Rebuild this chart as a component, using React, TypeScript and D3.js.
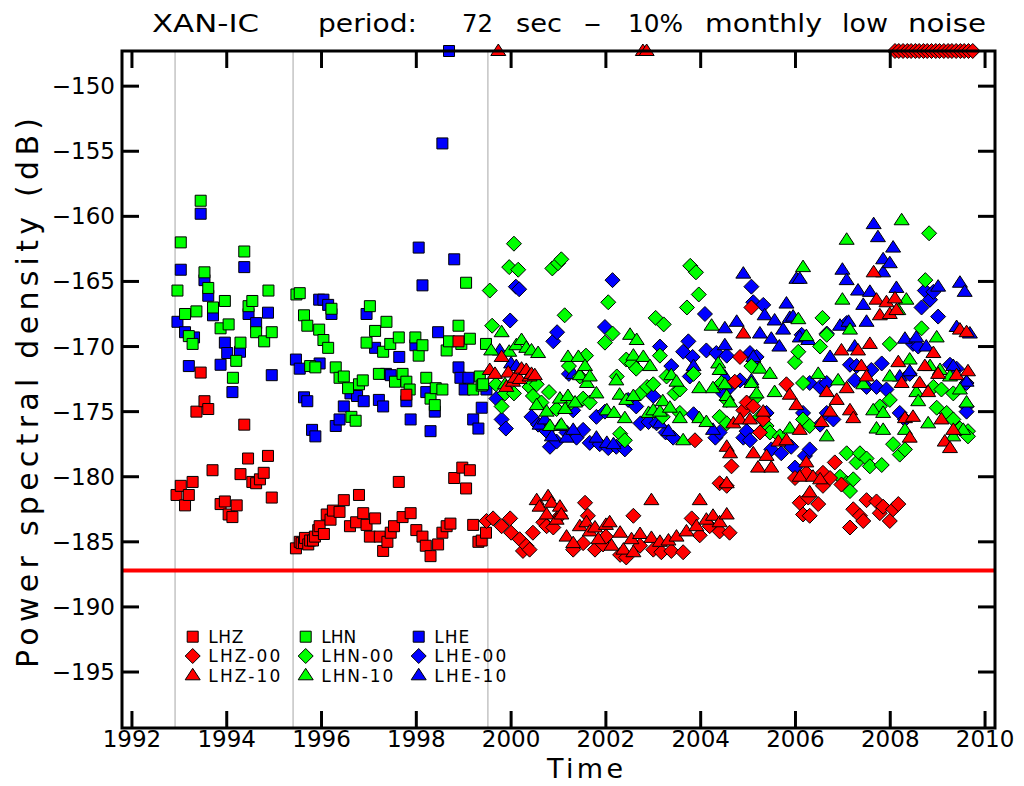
import React, { useRef, useEffect } from "react";
import * as d3 from "d3";

type Pt = [number, number];

// values are [decimal year, power spectral density in dB]
// points above the top of the plot (off scale) are kept as -140 and get clamped
const lhz: Pt[] = [
  [1992.94, -181.4], [1993.03, -180.7], [1993.12, -182.2], [1993.2, -181.4], [1993.28, -180.4],
  [1993.36, -175.0], [1993.45, -172.0], [1993.53, -174.2], [1993.61, -174.8], [1993.7, -179.5],
  [1993.87, -182.1], [1993.96, -181.9], [1994.04, -182.9], [1994.12, -183.1], [1994.21, -182.2],
  [1994.29, -179.8], [1994.37, -176.0], [1994.45, -178.6], [1994.54, -180.4], [1994.62, -180.5],
  [1994.7, -180.2], [1994.78, -179.7], [1994.87, -178.4], [1994.95, -181.6],
  [1995.46, -185.5], [1995.54, -185.0], [1995.58, -185.1], [1995.63, -185.1], [1995.65, -184.7],
  [1995.72, -185.2], [1995.76, -184.9], [1995.82, -184.9], [1995.86, -184.6], [1995.93, -184.1],
  [1995.96, -183.8], [1996.05, -184.4], [1996.11, -182.9], [1996.19, -183.3], [1996.24, -182.6],
  [1996.38, -182.7], [1996.47, -181.8], [1996.6, -183.8], [1996.73, -183.5], [1996.79, -181.4],
  [1996.88, -182.8], [1996.95, -183.7], [1997.02, -184.6], [1997.13, -183.2], [1997.23, -184.6],
  [1997.3, -185.7], [1997.39, -185.0], [1997.46, -184.3], [1997.53, -183.8], [1997.63, -180.4],
  [1997.71, -183.1], [1997.79, -173.7], [1997.88, -182.8], [1998.0, -184.1], [1998.13, -184.6],
  [1998.2, -185.3], [1998.3, -186.1], [1998.46, -185.2], [1998.55, -184.3], [1998.64, -183.8],
  [1998.72, -183.6], [1998.8, -180.1], [1998.89, -169.6], [1998.97, -179.3], [1999.05, -180.9],
  [1999.13, -179.5], [1999.2, -183.7], [1999.31, -185.0], [1999.38, -184.9], [1999.47, -184.3],
];

const lhz00: Pt[] = [
  [1999.48, -183.4], [1999.62, -183.2], [1999.8, -183.8], [1999.98, -183.2], [2000.0, -184.3],
  [2000.18, -184.8], [2000.25, -185.7], [2000.32, -185.3], [2000.39, -185.6], [2000.46, -184.3],
  [2000.68, -183.5], [2000.75, -183.8], [2000.89, -183.9], [2001.03, -183.0], [2001.31, -185.6],
  [2001.52, -185.1], [2001.56, -182.0], [2001.62, -183.0], [2001.77, -185.6], [2001.94, -185.2],
  [2002.0, -184.6], [2002.3, -186.0], [2002.43, -186.2], [2002.58, -183.0], [2002.72, -185.3],
  [2003.0, -185.6], [2003.17, -185.8], [2003.38, -185.7], [2003.63, -185.8], [2003.81, -183.2],
  [2003.88, -177.2], [2003.98, -184.5], [2004.19, -183.8], [2004.4, -184.2], [2004.4, -180.5],
  [2004.55, -180.7], [2004.61, -184.3], [2004.65, -179.2], [2004.72, -172.7], [2004.83, -170.8],
  [2004.9, -174.9], [2004.97, -174.3], [2005.07, -167.0], [2005.11, -174.6], [2005.25, -176.6],
  [2005.32, -175.6], [2005.81, -172.9], [2005.99, -180.1], [2006.09, -182.0], [2006.16, -182.9],
  [2006.23, -179.7], [2006.27, -181.6], [2006.3, -183.0], [2006.48, -182.1], [2006.58, -179.7],
  [2006.58, -180.7], [2006.73, -180.1], [2006.83, -178.9], [2006.97, -180.6], [2007.15, -183.9],
  [2007.22, -182.5], [2007.36, -183.0], [2007.43, -183.4], [2007.5, -181.8], [2007.71, -181.9],
  [2007.78, -182.8], [2007.85, -182.3], [2007.99, -183.4], [2008.06, -182.5], [2008.17, -182.1],
  [2008.1, -140], [2008.18, -140], [2008.27, -140], [2008.36, -140], [2008.44, -140],
  [2008.53, -140], [2008.61, -140], [2008.7, -140], [2008.78, -140], [2008.87, -140],
  [2008.96, -140], [2009.04, -140], [2009.13, -140], [2009.22, -140], [2009.3, -140],
  [2009.39, -140], [2009.48, -140], [2009.56, -140], [2009.65, -140], [2009.74, -140],
];

const lhz10: Pt[] = [
  [1999.55, -171.8], [1999.66, -172.1], [1999.73, -140], [1999.8, -170.8], [1999.9, -173.1],
  [1999.94, -172.0], [2000.04, -172.7], [2000.08, -172.4], [2000.18, -172.5], [2000.22, -171.7],
  [2000.32, -171.8], [2000.39, -172.3], [2000.43, -172.1], [2000.5, -172.2], [2000.54, -181.8],
  [2000.6, -182.3], [2000.75, -182.9], [2000.78, -181.5], [2000.85, -182.0], [2000.96, -183.3],
  [2001.03, -182.3], [2001.06, -182.9], [2001.17, -184.6], [2001.31, -185.1], [2001.45, -183.8],
  [2001.59, -183.5], [2001.66, -184.2], [2001.77, -183.9], [2001.84, -184.8], [2002.0, -183.7],
  [2002.08, -183.5], [2002.12, -185.3], [2002.3, -184.3], [2002.37, -185.6], [2002.54, -184.8],
  [2002.58, -185.8], [2002.72, -184.4], [2002.78, -140], [2002.86, -140], [2002.96, -181.8],
  [2002.96, -184.7], [2003.14, -185.0], [2003.32, -184.9], [2003.49, -184.6], [2003.7, -184.2],
  [2003.91, -183.8], [2003.98, -181.8], [2004.12, -183.3], [2004.26, -183.0], [2004.4, -183.5],
  [2004.55, -177.7], [2004.62, -178.2], [2004.55, -180.5], [2004.55, -182.9], [2004.69, -175.9],
  [2004.83, -175.6], [2004.9, -169.0], [2005.04, -175.6], [2005.11, -178.2], [2005.21, -179.3],
  [2005.32, -175.0], [2005.39, -178.4], [2005.49, -179.3], [2005.64, -177.3], [2005.81, -177.2],
  [2005.88, -173.7], [2006.02, -174.5], [2006.09, -176.4], [2006.09, -180.0], [2006.23, -178.9],
  [2006.3, -181.2], [2006.37, -180.0], [2006.52, -180.2], [2006.55, -175.8], [2006.66, -173.5],
  [2006.73, -175.0], [2006.87, -174.1], [2006.97, -170.3], [2007.08, -173.2], [2007.15, -174.9],
  [2007.22, -175.5], [2007.32, -170.3], [2007.39, -171.5], [2007.5, -172.3], [2007.57, -169.8],
  [2007.65, -164.3], [2007.71, -166.4], [2007.78, -167.6], [2007.92, -166.6], [2007.99, -167.5],
  [2008.1, -166.3], [2008.13, -167.2], [2008.17, -171.2], [2008.24, -172.8], [2008.31, -175.5],
  [2008.41, -177.0], [2008.48, -175.4], [2008.62, -172.8], [2008.73, -171.5], [2008.8, -173.5],
  [2008.91, -170.5], [2009.01, -172.1], [2009.08, -175.6], [2009.15, -177.3], [2009.26, -177.8],
  [2009.33, -176.4], [2009.4, -172.2], [2009.47, -168.7], [2009.61, -168.9], [2009.64, -171.9],
];

const lhn: Pt[] = [
  [1992.96, -165.7], [1993.03, -162.0], [1993.12, -167.5], [1993.2, -169.2], [1993.28, -169.8],
  [1993.36, -167.3], [1993.45, -158.8], [1993.53, -164.3], [1993.61, -165.5], [1993.71, -167.0],
  [1993.87, -168.6], [1993.96, -166.5], [1994.04, -168.3], [1994.13, -172.4], [1994.2, -171.1],
  [1994.29, -169.7], [1994.37, -162.7], [1994.46, -166.9], [1994.54, -166.5], [1994.62, -168.9],
  [1994.79, -169.6], [1994.88, -165.7], [1994.95, -168.9],
  [1995.47, -166.0], [1995.54, -165.9], [1995.63, -167.6], [1995.7, -168.4], [1995.76, -171.5],
  [1995.87, -171.6], [1995.95, -168.7], [1996.04, -169.5], [1996.14, -170.1], [1996.21, -167.1],
  [1996.3, -171.6], [1996.38, -172.4], [1996.47, -172.3], [1996.56, -173.2], [1996.63, -175.4],
  [1996.72, -175.7], [1996.79, -172.9], [1996.87, -172.6], [1996.95, -169.7], [1997.02, -166.9],
  [1997.13, -168.8], [1997.21, -172.1], [1997.3, -170.4], [1997.37, -168.1], [1997.45, -169.8],
  [1997.55, -172.7], [1997.63, -169.3], [1997.71, -172.1], [1997.79, -172.7], [1997.86, -173.3],
  [1997.98, -169.3], [1998.05, -170.7], [1998.13, -169.9], [1998.21, -172.4], [1998.3, -174.0],
  [1998.39, -174.5], [1998.41, -173.2], [1998.55, -173.3], [1998.64, -170.3], [1998.69, -169.6],
  [1998.89, -168.4], [1998.95, -169.8], [1999.05, -165.1], [1999.13, -169.4], [1999.2, -173.3],
  [1999.34, -172.3], [1999.38, -173.0], [1999.41, -172.9], [1999.47, -169.8],
];

const lhn00: Pt[] = [
  [1999.55, -165.7], [1999.6, -168.4], [1999.68, -172.9], [1999.8, -174.6], [1999.87, -173.6],
  [1999.96, -163.9], [2000.06, -162.1], [2000.06, -173.6], [2000.15, -164.1], [2000.39, -173.1],
  [2000.46, -173.8], [2000.54, -172.9], [2000.64, -174.3], [2000.8, -173.5], [2000.87, -164.0],
  [2000.96, -174.8], [2000.99, -163.6], [2001.06, -163.3], [2001.13, -167.6], [2001.22, -171.5],
  [2001.27, -174.3], [2001.45, -172.3], [2001.52, -174.0], [2001.58, -170.7], [2001.66, -174.3],
  [2001.98, -169.7], [2002.05, -166.6], [2002.14, -169.0], [2002.23, -172.3], [2002.3, -176.7],
  [2002.4, -177.2], [2002.43, -171.0], [2002.55, -171.3], [2002.64, -171.7], [2002.73, -173.6],
  [2002.87, -173.1], [2003.0, -172.9], [2003.05, -167.8], [2003.14, -170.7], [2003.2, -175.4],
  [2003.22, -168.3], [2003.28, -172.3], [2003.45, -173.6], [2003.56, -173.3], [2003.56, -175.1],
  [2003.71, -167.0], [2003.78, -163.8], [2003.85, -172.1], [2003.9, -164.3], [2003.96, -166.0],
  [2004.4, -175.4], [2004.44, -172.8], [2004.55, -175.9], [2004.55, -174.1], [2005.07, -171.5],
  [2005.14, -174.0], [2005.25, -175.4], [2005.39, -176.1], [2005.46, -176.6], [2005.67, -176.9],
  [2005.99, -171.2], [2006.06, -170.4], [2006.16, -172.8], [2006.16, -175.6], [2006.3, -176.1],
  [2006.52, -170.0], [2006.57, -167.8], [2006.66, -169.1], [2006.94, -180.0], [2007.08, -178.2],
  [2007.08, -180.5], [2007.15, -181.1], [2007.22, -180.2], [2007.29, -178.9], [2007.36, -178.2],
  [2007.5, -178.6], [2007.57, -179.2], [2007.82, -179.1], [2007.78, -174.6], [2007.99, -174.1],
  [2007.99, -169.8], [2008.06, -177.5], [2008.2, -178.3], [2008.31, -177.9], [2008.66, -168.6],
  [2008.74, -164.9], [2008.82, -161.3], [2008.91, -173.1], [2008.98, -174.7], [2009.08, -173.3],
  [2009.19, -175.1], [2009.33, -173.6], [2009.33, -175.6], [2009.47, -176.3], [2009.64, -176.5],
  [2009.64, -176.9],
];

const lhn10: Pt[] = [
  [1999.58, -170.3], [1999.8, -168.9], [1999.87, -172.9], [1999.96, -170.4], [2000.11, -169.9],
  [2000.22, -169.5], [2000.32, -170.1], [2000.43, -170.3], [2000.54, -174.5], [2000.57, -170.5],
  [2000.75, -175.0], [2000.82, -176.1], [2001.03, -174.0], [2001.06, -176.0], [2001.14, -174.8],
  [2001.2, -170.8], [2001.2, -173.8], [2001.35, -174.3], [2001.42, -170.8], [2001.45, -172.2],
  [2001.56, -171.5], [2001.6, -172.8], [2001.66, -172.3], [2001.8, -173.6], [2002.02, -174.9],
  [2002.17, -175.1], [2002.22, -172.6], [2002.29, -173.7], [2002.4, -175.5], [2002.43, -174.1],
  [2002.51, -169.1], [2002.58, -170.7], [2002.58, -173.8], [2002.65, -169.5], [2002.79, -170.8],
  [2002.9, -175.1], [2002.93, -171.5], [2003.0, -174.9], [2003.14, -175.0], [2003.2, -174.2],
  [2003.35, -174.7], [2003.38, -172.2], [2003.49, -172.7], [2003.56, -175.5], [2003.63, -177.2],
  [2003.97, -173.2], [2003.97, -175.5], [2004.12, -175.8], [2004.23, -168.4], [2004.26, -173.2],
  [2004.37, -171.3], [2004.4, -171.8], [2004.51, -172.9], [2004.55, -173.8], [2004.62, -174.3],
  [2005.07, -172.8], [2005.18, -173.6], [2005.25, -171.7], [2005.46, -172.1], [2005.56, -173.5],
  [2005.88, -176.3], [2006.06, -167.9], [2006.16, -163.9], [2006.23, -169.2], [2006.48, -172.1],
  [2006.66, -176.9], [2006.9, -172.6], [2006.99, -166.4], [2007.08, -161.8], [2007.15, -168.7],
  [2007.43, -172.9], [2007.64, -174.9], [2007.71, -176.3], [2007.85, -175.1], [2007.85, -176.4],
  [2007.99, -172.3], [2008.17, -167.2], [2008.24, -160.3], [2008.31, -176.4], [2008.34, -166.4],
  [2008.41, -171.0], [2008.55, -173.5], [2008.59, -174.2], [2008.8, -175.9], [2008.84, -171.5],
  [2008.98, -169.3], [2009.05, -171.8], [2009.26, -172.3], [2009.33, -176.9], [2009.47, -173.3],
  [2009.54, -176.4], [2009.61, -174.3],
];

const lhe: Pt[] = [
  [1992.96, -168.1], [1993.03, -164.1], [1993.12, -168.9], [1993.2, -171.5], [1993.31, -169.3],
  [1993.45, -159.8], [1993.53, -164.9], [1993.61, -166.1], [1993.71, -167.6], [1993.87, -171.4],
  [1993.96, -169.7], [1994.01, -170.5], [1994.12, -173.5], [1994.28, -170.4], [1994.37, -163.9],
  [1994.46, -167.5], [1994.62, -168.2], [1994.87, -167.4], [1994.95, -172.2],
  [1995.46, -171.0], [1995.54, -171.7], [1995.63, -173.9], [1995.7, -174.2], [1995.8, -176.4],
  [1995.87, -176.9], [1995.95, -166.4], [1995.96, -171.3], [1996.04, -166.4], [1996.14, -166.8],
  [1996.21, -167.5], [1996.3, -176.1], [1996.38, -175.6], [1996.47, -174.6], [1996.61, -173.6],
  [1996.75, -173.8], [1996.89, -174.2], [1996.95, -167.5], [1997.13, -170.1], [1997.21, -174.1],
  [1997.3, -174.6], [1997.36, -172.1], [1997.46, -172.2], [1997.64, -170.8], [1997.79, -174.2],
  [1997.88, -175.6], [1997.98, -169.9], [1998.05, -162.4], [1998.13, -165.3], [1998.21, -173.5],
  [1998.3, -176.5], [1998.39, -175.0], [1998.46, -168.9], [1998.55, -154.4], [1998.69, -140],
  [1998.8, -163.3], [1998.89, -171.6], [1998.93, -172.4], [1999.02, -173.3], [1999.1, -172.4],
  [1999.2, -175.6], [1999.31, -176.3], [1999.38, -174.7], [1999.48, -173.3],
];

const lhe00: Pt[] = [
  [1999.69, -174.0], [1999.8, -175.6], [1999.89, -176.3], [1999.98, -168.0], [2000.1, -165.4],
  [2000.17, -165.6], [2000.43, -175.4], [2000.57, -176.0], [2000.75, -176.5], [2000.82, -177.7],
  [2000.89, -169.6], [2000.96, -177.3], [2000.97, -168.9], [2001.17, -176.6], [2001.22, -172.1],
  [2001.31, -174.9], [2001.38, -177.0], [2001.52, -176.4], [2001.66, -177.4], [2001.8, -175.4],
  [2001.87, -177.5], [2001.98, -168.5], [2001.98, -175.0], [2002.05, -177.8], [2002.14, -164.9],
  [2002.22, -177.7], [2002.4, -177.9], [2002.47, -174.1], [2002.64, -174.6], [2002.73, -175.9],
  [2002.9, -175.8], [2003.0, -173.8], [2003.07, -175.9], [2003.14, -170.0], [2003.26, -176.6],
  [2003.38, -171.5], [2003.42, -177.0], [2003.63, -170.4], [2003.74, -169.6], [2003.77, -172.3],
  [2003.83, -170.8], [2003.85, -175.2], [2004.09, -167.5], [2004.12, -170.3], [2004.31, -177.0],
  [2004.33, -170.5], [2004.4, -176.6], [2004.48, -173.6], [2004.55, -170.7], [2004.62, -173.1],
  [2004.83, -172.6], [2004.9, -177.0], [2004.97, -176.5], [2005.04, -170.5], [2005.04, -177.2],
  [2005.07, -165.4], [2005.11, -166.6], [2005.18, -170.8], [2005.32, -166.8], [2005.39, -175.1],
  [2005.49, -177.9], [2005.7, -178.2], [2005.91, -177.7], [2005.99, -179.3], [2006.13, -169.1],
  [2006.16, -175.1], [2006.2, -178.4], [2006.3, -172.8], [2006.3, -177.9], [2006.52, -173.1],
  [2006.52, -176.0], [2006.66, -169.0], [2006.66, -172.8], [2006.66, -175.1], [2006.8, -175.6],
  [2007.08, -168.2], [2007.15, -171.4], [2007.25, -172.6], [2007.29, -171.5], [2007.5, -173.1],
  [2007.6, -171.8], [2007.71, -173.1], [2007.82, -171.3], [2007.92, -173.3], [2008.2, -175.1],
  [2008.31, -175.6], [2008.41, -172.1], [2008.48, -169.8], [2008.59, -170.0], [2008.66, -167.0],
  [2008.73, -165.7], [2008.84, -166.4], [2008.91, -165.8], [2009.01, -167.7], [2009.26, -171.4],
  [2009.4, -171.7], [2009.61, -172.8], [2009.61, -174.6], [2009.61, -175.0],
];

const lhe10: Pt[] = [
  [1999.76, -170.3], [2000.0, -171.3], [2000.11, -171.5], [2000.6, -176.0], [2000.71, -175.6],
  [2000.86, -176.9], [2001.03, -176.1], [2001.17, -177.0], [2001.31, -176.4], [2001.31, -172.1],
  [2001.8, -177.0], [2002.02, -177.4], [2002.16, -177.5], [2003.14, -175.9], [2003.32, -176.5],
  [2003.85, -171.5], [2004.26, -176.4], [2004.51, -168.6], [2004.51, -169.9], [2004.51, -172.3],
  [2004.76, -168.1], [2004.9, -164.4], [2005.07, -172.6], [2005.11, -170.8], [2005.25, -169.0],
  [2005.35, -167.6], [2005.49, -169.4], [2005.56, -168.0], [2005.66, -170.0], [2005.74, -168.7],
  [2005.81, -166.7], [2005.88, -167.8], [2005.95, -167.7], [2006.02, -164.8], [2006.09, -164.8],
  [2006.09, -169.3], [2006.27, -169.5], [2006.73, -170.8], [2006.94, -168.4], [2006.99, -164.1],
  [2007.08, -164.9], [2007.12, -168.1], [2007.25, -170.0], [2007.32, -165.7], [2007.43, -166.8],
  [2007.5, -168.1], [2007.57, -165.8], [2007.65, -160.6], [2007.74, -161.6], [2007.85, -163.3],
  [2007.85, -164.3], [2007.99, -163.6], [2008.06, -162.4], [2008.13, -165.5], [2008.2, -172.3],
  [2008.31, -169.4], [2008.41, -171.9], [2008.55, -169.3], [2008.76, -170.0], [2009.01, -165.4],
  [2009.33, -171.5], [2009.4, -168.5], [2009.47, -165.1], [2009.57, -165.8], [2009.61, -172.7],
  [2009.68, -169.0],
];

// station epoch changes (gray lines) and the low noise reference level (red line)
const epochs = [1992.91, 1995.4, 1999.51];
const lowNoiseLevel = -187.2;

const xTicks = [1992, 1994, 1996, 1998, 2000, 2002, 2004, 2006, 2008, 2010];
const yTicks = [-150, -155, -160, -165, -170, -175, -180, -185, -190, -195];

const seriesList = [
  { name: "LHE", data: lhe, color: "#0000ff", shape: "square" },
  { name: "LHE-00", data: lhe00, color: "#0000ff", shape: "diamond" },
  { name: "LHE-10", data: lhe10, color: "#0000ff", shape: "triangle" },
  { name: "LHN", data: lhn, color: "#00ff00", shape: "square" },
  { name: "LHN-00", data: lhn00, color: "#00ff00", shape: "diamond" },
  { name: "LHN-10", data: lhn10, color: "#00ff00", shape: "triangle" },
  { name: "LHZ", data: lhz, color: "#ff0000", shape: "square" },
  { name: "LHZ-00", data: lhz00, color: "#ff0000", shape: "diamond" },
  { name: "LHZ-10", data: lhz10, color: "#ff0000", shape: "triangle" },
];

// legend goes column by column: Z, N, E
const legendColumns = [
  ["LHZ", "LHZ-00", "LHZ-10"],
  ["LHN", "LHN-00", "LHN-10"],
  ["LHE", "LHE-00", "LHE-10"],
];

const FONT = "DejaVu Sans";

function shapePath(shape: string, x: number, y: number) {
  if (shape === "square") return `M${x - 5.5},${y - 5.5}h11v11h-11Z`;
  if (shape === "diamond")
    return `M${x},${y - 7.5}L${x + 7.5},${y}L${x},${y + 7.5}L${x - 7.5},${y}Z`;
  return `M${x},${y - 7}L${x + 7.5},${y + 4.5}L${x - 7.5},${y + 4.5}Z`;
}

function NoiseChart() {
  const svgRef = useRef<SVGSVGElement>(null);

  useEffect(() => {
    const svg = d3.select(svgRef.current);
    svg.selectAll("*").remove();

    const left = 122,
      right = 995,
      top = 51,
      bottom = 728;

    const xScale = d3.scaleLinear().domain([1991.79, 2010.21]).range([left, right]);
    // clamp so that off-scale values sit on the top edge
    const yScale = d3.scaleLinear().domain([-199.3, -147.3]).range([bottom, top]).clamp(true);

    // gray epoch lines
    svg
      .selectAll(".epoch")
      .data(epochs)
      .join("line")
      .attr("class", "epoch")
      .attr("x1", (d) => xScale(d))
      .attr("x2", (d) => xScale(d))
      .attr("y1", top)
      .attr("y2", bottom)
      .attr("stroke", "#c4c4c4")
      .attr("stroke-width", 1.5);

    // low noise level
    svg
      .append("line")
      .attr("x1", left)
      .attr("x2", right)
      .attr("y1", yScale(lowNoiseLevel))
      .attr("y2", yScale(lowNoiseLevel))
      .attr("stroke", "#ff0000")
      .attr("stroke-width", 4);

    // points, one group per channel
    seriesList.forEach((s) => {
      svg
        .append("g")
        .selectAll("path")
        .data(s.data)
        .join("path")
        .attr("d", (d) => shapePath(s.shape, xScale(d[0]), yScale(d[1])))
        .attr("fill", s.color)
        .attr("stroke", "#000")
        .attr("stroke-width", 1);
    });

    // legend
    const legend = svg.append("g");
    legendColumns.forEach((col, ci) => {
      col.forEach((name, ri) => {
        const s = seriesList.find((e) => e.name === name)!;
        const lx = 192.7 + ci * 113;
        const ly = 636.7 + ri * 19.3;
        legend
          .append("path")
          .attr("d", shapePath(s.shape, lx, ly))
          .attr("fill", s.color)
          .attr("stroke", "#000")
          .attr("stroke-width", 1);
        legend
          .append("text")
          .attr("x", lx + 15.6)
          .attr("y", ly + 6.3)
          .attr("font-family", FONT)
          .attr("font-size", 17)
          .attr("textLength", name.length > 3 ? 72 : 35)
          .attr("lengthAdjust", "spacing")
          .text(name);
      });
    });

    // frame
    svg
      .append("rect")
      .attr("x", left)
      .attr("y", top)
      .attr("width", right - left)
      .attr("height", bottom - top)
      .attr("fill", "none")
      .attr("stroke", "#000")
      .attr("stroke-width", 3);

    // ticks on all four sides, pointing inward
    const tickLen = 17;
    const ticks = svg.append("g").attr("stroke", "#000").attr("stroke-width", 3);
    xTicks.forEach((t) => {
      ticks.append("line").attr("x1", xScale(t)).attr("x2", xScale(t)).attr("y1", bottom).attr("y2", bottom - tickLen);
      ticks.append("line").attr("x1", xScale(t)).attr("x2", xScale(t)).attr("y1", top).attr("y2", top + tickLen);
    });
    yTicks.forEach((t) => {
      ticks.append("line").attr("x1", left).attr("x2", left + tickLen).attr("y1", yScale(t)).attr("y2", yScale(t));
      ticks.append("line").attr("x1", right).attr("x2", right - tickLen).attr("y1", yScale(t)).attr("y2", yScale(t));
    });

    // tick labels
    svg
      .selectAll(".xlabel")
      .data(xTicks)
      .join("text")
      .attr("class", "xlabel")
      .attr("x", (d) => xScale(d))
      .attr("y", 747)
      .attr("text-anchor", "middle")
      .attr("font-family", FONT)
      .attr("font-size", 23)
      .text((d) => d);

    svg
      .selectAll(".ylabel")
      .data(yTicks)
      .join("text")
      .attr("class", "ylabel")
      .attr("x", 115)
      .attr("y", (d) => yScale(d) + 8)
      .attr("text-anchor", "end")
      .attr("font-family", FONT)
      .attr("font-size", 23)
      .text((d) => "\u2212" + Math.abs(d));

    // axis titles
    svg
      .append("text")
      .attr("x", 585)
      .attr("y", 778)
      .attr("text-anchor", "middle")
      .attr("font-family", FONT)
      .attr("font-size", 27)
      .attr("textLength", 76)
      .attr("lengthAdjust", "spacing")
      .text("Time");

    svg
      .append("text")
      .attr("transform", "translate(38,393) rotate(-90)")
      .attr("text-anchor", "middle")
      .attr("font-family", FONT)
      .attr("font-size", 30)
      .attr("textLength", 550)
      .attr("lengthAdjust", "spacing")
      .text("Power spectral density (dB)");

    // title, word by word so the wide spacing of the original is kept
    const titleWords: [string, number, number][] = [
      ["XAN-IC", 152, 107],
      ["period:", 318, 99],
      ["72", 462, 31],
      ["sec", 516, 46],
      ["-", 583, 19],
      ["10%", 628, 55],
      ["monthly", 705, 117],
      ["low", 842, 46],
      ["noise", 908, 78],
    ];
    svg
      .selectAll(".title")
      .data(titleWords)
      .join("text")
      .attr("class", "title")
      .attr("x", (d) => d[1])
      .attr("y", 31.5)
      .attr("font-family", FONT)
      .attr("font-size", 24)
      .attr("textLength", (d) => d[2])
      .attr("lengthAdjust", "spacingAndGlyphs")
      .text((d) => d[0]);
  }, []);

  return (
    <svg
      ref={svgRef}
      width={1024}
      height={786}
      style={{ position: "absolute", left: 0, top: 0, background: "#fff" }}
    />
  );
}

export default function App() {
  return <NoiseChart />;
}
